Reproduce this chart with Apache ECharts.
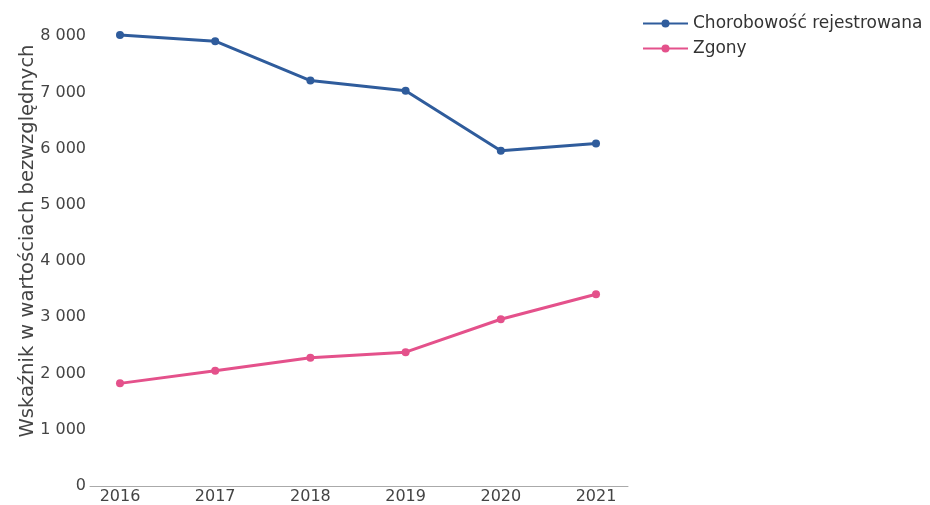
<!DOCTYPE html>
<html>
<head>
<meta charset="utf-8">
<script src="https://cdn.jsdelivr.net/npm/echarts@6/dist/echarts.min.js"></script>
<style>
  html, body { margin: 0; padding: 0; background: #fff; }
  #chart { width: 930px; height: 505px; }
</style>
</head>
<body>
<div id="chart"></div>
<script>
// Lata i wartości bezwzględne
const years = [2016, 2017, 2018, 2019, 2020, 2021];
const chorobowosc = [8020, 7910, 7210, 7030, 5960, 6090];
const zgony = [1825, 2050, 2280, 2380, 2965, 3410];
const yTicks = [0, 1000, 2000, 3000, 4000, 5000, 6000, 7000, 8000];

const FONT = '"DejaVu Sans", Verdana, sans-serif';
const fmt = v => String(v).replace(/\B(?=(\d{3})+(?!\d))/g, ' ');
const pairs = vals => years.map((y, i) => [y, vals[i]]);

const chart = echarts.init(document.getElementById('chart'), null, { renderer: 'canvas' });
chart.setOption({
  animation: false,
  backgroundColor: '#fff',
  textStyle: { fontFamily: FONT },
  grid: { left: 90, right: 302, top: 8, bottom: 19, containLabel: false },
  legend: {
    orient: 'vertical',
    left: 637,
    top: 10,
    itemWidth: 45,
    itemHeight: 10,
    itemGap: 8,
    textStyle: { fontFamily: FONT, fontSize: 17, color: '#333' },
    data: ['Chorobowość rejestrowana', 'Zgony']
  },
  xAxis: {
    type: 'value',
    min: 2015.685,
    max: 2021.336,
    axisLine: { show: true, lineStyle: { color: '#aaa', width: 1 } },
    axisTick: { show: false },
    splitLine: { show: false },
    axisLabel: {
      customValues: years,
      formatter: v => String(v),
      fontFamily: FONT,
      fontSize: 16,
      color: '#444',
      margin: 3
    }
  },
  yAxis: {
    type: 'value',
    min: 0,
    max: 8500,
    axisLine: { show: false },
    axisTick: { show: false },
    splitLine: { show: false },
    axisLabel: {
      customValues: yTicks,
      formatter: v => fmt(v),
      fontFamily: FONT,
      fontSize: 16,
      color: '#444',
      margin: 4
    },
    name: 'Wskaźnik w wartościach bezwzględnych',
    nameLocation: 'middle',
    nameGap: 52,
    nameMoveOverlap: false,
    nameRotate: 90,
    nameTextStyle: { fontFamily: FONT, fontSize: 19.5, color: '#444', padding: [0, 0, 0, 12] }
  },
  series: [
    {
      name: 'Chorobowość rejestrowana',
      type: 'line',
      data: pairs(chorobowosc),
      symbol: 'circle',
      symbolSize: 8,
      color: '#2f5c9c',
      lineStyle: { width: 3, color: '#2f5c9c' },
      itemStyle: { color: '#2f5c9c' }
    },
    {
      name: 'Zgony',
      type: 'line',
      data: pairs(zgony),
      symbol: 'circle',
      symbolSize: 8,
      color: '#e4518b',
      lineStyle: { width: 3, color: '#e4518b' },
      itemStyle: { color: '#e4518b' }
    }
  ]
});
</script>
</body>
</html>
